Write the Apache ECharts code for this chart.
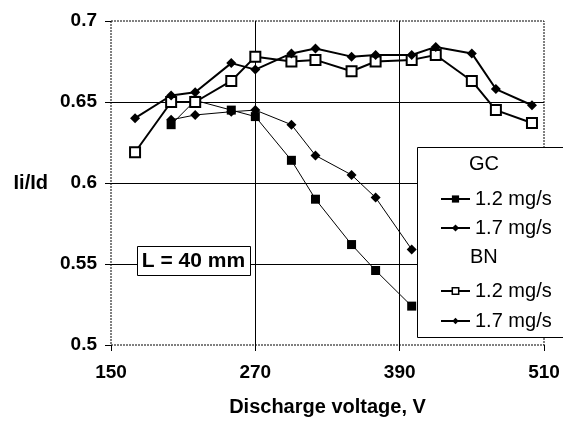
<!DOCTYPE html>
<html>
<head>
<meta charset="utf-8">
<script src="https://cdn.jsdelivr.net/npm/echarts@6/dist/echarts.min.js"></script>
<style>html,body{margin:0;padding:0;background:#fff}#c{width:563px;height:422px}</style>
</head>
<body>
<div id="c"></div>
<script>
// Voltages (V)
const gcVoltage = [200, 220, 250, 270, 300, 320, 350, 370, 400];
const bnVoltage = [170, 200, 220, 250, 270, 300, 320, 350, 370, 400, 420, 450, 470, 500];
// Ii/Id values
const gc12 = [0.636, 0.651, 0.645, 0.641, 0.614, 0.590, 0.562, 0.546, 0.524];
const gc17 = [0.639, 0.642, 0.644, 0.645, 0.636, 0.617, 0.605, 0.591, 0.559];
const bn12 = [0.619, 0.650, 0.650, 0.663, 0.678, 0.675, 0.676, 0.669, 0.675, 0.676, 0.679, 0.663, 0.645, 0.637];
const bn17 = [0.640, 0.654, 0.656, 0.674, 0.670, 0.680, 0.683, 0.678, 0.679, 0.679, 0.684, 0.680, 0.658, 0.648];
const seriesNames = ['GC 1.2 mg/s', 'GC 1.7 mg/s', 'BN 1.2 mg/s', 'BN 1.7 mg/s'];
const xTicks = [150, 270, 390, 510];
const yTicks = [0.5, 0.55, 0.6, 0.65, 0.7];

const zip = (xs, ys) => xs.map((x, i) => [x, ys[i]]);
const FONT = 'Liberation Sans, Arial, sans-serif';

const chart = echarts.init(document.getElementById('c'), null, {renderer: 'canvas'});
const legendText = {fontFamily: FONT, fontSize: 20, color: '#000', lineHeight: 20};
chart.setOption({
  backgroundColor: '#fff',
  animation: false,
  grid: {left: 111, right: 19, top: 21, bottom: 72, show: true,
         borderColor: '#000', borderWidth: 1, borderType: [2, 1], backgroundColor: 'transparent'},
  xAxis: {
    type: 'value', min: xTicks[0], max: xTicks[xTicks.length - 1], interval: 120,
    name: 'Discharge voltage, V', nameLocation: 'middle', nameGap: 52,
    nameTextStyle: {fontFamily: FONT, fontSize: 20, fontWeight: 'bold', color: '#000'},
    axisLine: {show: false},
    axisTick: {show: true, length: 6, lineStyle: {color: '#000'}},
    axisLabel: {fontFamily: FONT, fontSize: 19, fontWeight: 'bold', color: '#000', margin: 18},
    splitLine: {show: true, showMinLine: false, showMaxLine: false, lineStyle: {color: '#000', width: 1}}
  },
  yAxis: {
    type: 'value', min: yTicks[0], max: yTicks[yTicks.length - 1], interval: 0.05,
    name: 'Ii/Id', nameLocation: 'middle', nameRotate: 0, nameGap: 63,
    nameTextStyle: {fontFamily: FONT, fontSize: 20, fontWeight: 'bold', color: '#000'},
    axisLine: {show: false},
    axisTick: {show: true, length: 6, lineStyle: {color: '#000'}},
    axisLabel: {fontFamily: FONT, fontSize: 19, fontWeight: 'bold', color: '#000', margin: 14,
                formatter: v => String(parseFloat(v.toFixed(2)))},
    splitLine: {show: true, showMinLine: false, showMaxLine: false, lineStyle: {color: '#000', width: 1}}
  },
  legend: [
    {data: seriesNames.slice(0, 2), orient: 'vertical', left: 435, top: 184, itemWidth: 29, itemHeight: 9,
     itemGap: 9, textStyle: legendText, formatter: n => n.slice(3), z: 20, selectedMode: false},
    {data: [{name: seriesNames[2], itemStyle: {borderWidth: 1.5}}, {name: seriesNames[3]}],
     orient: 'vertical', left: 435, top: 276, itemWidth: 29, itemHeight: 8,
     itemGap: 10, textStyle: legendText, formatter: n => n.slice(3), z: 20, selectedMode: false}
  ],
  graphic: [
    {type: 'rect', left: 417, top: 147, z: 10, shape: {width: 170, height: 190},
     style: {fill: '#fff', stroke: '#000', lineWidth: 1}},
    {type: 'text', left: 469, top: 154, z: 11, style: {text: 'GC', font: '20px ' + FONT, fill: '#000'}},
    {type: 'text', left: 470, top: 247, z: 11, style: {text: 'BN', font: '20px ' + FONT, fill: '#000'}},
    {type: 'rect', left: 137, top: 246, z: 10, shape: {width: 113, height: 29},
     style: {fill: '#fff', stroke: '#000', lineWidth: 1}},
    {type: 'text', x: 193.5, y: 261, z: 11,
     style: {text: 'L = 40 mm', font: 'bold 21px ' + FONT, fill: '#000', align: 'center', verticalAlign: 'middle'}}
  ],
  series: [
    {name: seriesNames[0], type: 'line', data: zip(gcVoltage, gc12), symbol: 'rect', symbolSize: 9,
     lineStyle: {color: '#000', width: 1}, itemStyle: {color: '#000'}, z: 3},
    {name: seriesNames[1], type: 'line', data: zip(gcVoltage, gc17), symbol: 'diamond', symbolSize: 10,
     lineStyle: {color: '#000', width: 1}, itemStyle: {color: '#000'}, z: 3},
    {name: seriesNames[2], type: 'line', data: zip(bnVoltage, bn12), symbol: 'rect', symbolSize: 10,
     lineStyle: {color: '#000', width: 2}, itemStyle: {color: '#fff', borderColor: '#000', borderWidth: 2}, z: 4},
    {name: seriesNames[3], type: 'line', data: zip(bnVoltage, bn17), symbol: 'diamond', symbolSize: 10,
     lineStyle: {color: '#000', width: 2}, itemStyle: {color: '#000'}, z: 4}
  ]
});
</script>
</body>
</html>
